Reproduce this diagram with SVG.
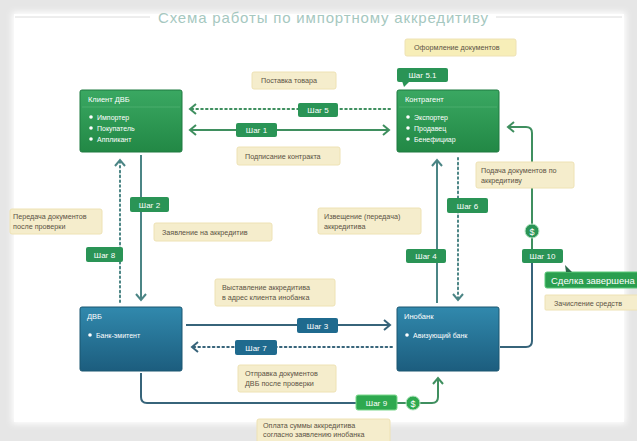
<svg xmlns="http://www.w3.org/2000/svg" width="637" height="441" viewBox="0 0 637 441">
<defs>
<style>
text{font-family:"Liberation Sans","DejaVu Sans",sans-serif}
.lbl rect{fill:#f5edcc;stroke:#eee2b4;stroke-width:1}
.lbl text{fill:#5b5344;font-size:7.2px}
.st rect{fill:#2a9456}
.stb rect{fill:#1f6a8e}
.st text,.stb text{fill:#fff;font-size:8px;text-anchor:middle}
.ng{fill:url(#gg);stroke:#1f7a40;stroke-width:1}
.nb{fill:url(#bg);stroke:#1a5670;stroke-width:1}
.nt{fill:#fff;font-size:7.5px}
.nbul{fill:#fff;font-size:7px}
.ln{fill:none;stroke-width:2}
.dot{stroke-dasharray:1.6 3.2;stroke-linecap:round}
.cg{stroke:#3f8f5f}
.ct{stroke:#4b8585}
.cs{stroke:#37647a}
</style>
<linearGradient id="gg" x1="0" y1="0" x2="0" y2="1"><stop offset="0" stop-color="#3aa862"/><stop offset="1" stop-color="#228845"/></linearGradient>
<linearGradient id="bg" x1="0" y1="0" x2="0" y2="1"><stop offset="0" stop-color="#3189ad"/><stop offset="1" stop-color="#1c5d7e"/></linearGradient>
<filter id="sh" x="-5%" y="-5%" width="110%" height="110%"><feGaussianBlur stdDeviation="3"/></filter>
<marker id="ag" markerUnits="userSpaceOnUse" markerWidth="10" markerHeight="12" viewBox="0 0 10 12" refX="7" refY="6" orient="auto-start-reverse"><path d="M1,1 L7,6 L1,11" fill="none" stroke="#3f8f5f" stroke-width="2"/></marker>
<marker id="at" markerUnits="userSpaceOnUse" markerWidth="10" markerHeight="12" viewBox="0 0 10 12" refX="7" refY="6" orient="auto-start-reverse"><path d="M1,1 L7,6 L1,11" fill="none" stroke="#4b8585" stroke-width="2"/></marker>
<marker id="as" markerUnits="userSpaceOnUse" markerWidth="10" markerHeight="12" viewBox="0 0 10 12" refX="7" refY="6" orient="auto-start-reverse"><path d="M1,1 L7,6 L1,11" fill="none" stroke="#37647a" stroke-width="2"/></marker>
</defs>

<rect x="0" y="0" width="637" height="441" fill="#e6e6e6"/>
<rect x="12" y="12" width="614" height="412" fill="#ffffff" filter="url(#sh)"/>
<rect x="14" y="14" width="610" height="408" fill="#ffffff"/>

<g id="title">
<line x1="15" y1="17" x2="150" y2="17" stroke="#dcdcdc" stroke-width="1"/>
<line x1="496" y1="17" x2="622" y2="17" stroke="#dcdcdc" stroke-width="1"/>
<text x="323" y="23" font-size="15" fill="#a6c8bf" text-anchor="middle" textLength="330">Схема работы по импортному аккредитиву</text>
</g>

<g id="connectors">
<path class="ln dot cg" d="M390,109 H190" marker-end="url(#ag)"/>
<path class="ln cg" d="M190,130 H389" marker-start="url(#ag)" marker-end="url(#ag)"/>
<path class="ln ct" d="M141,155 V300" marker-end="url(#at)"/>
<path class="ln dot ct" d="M120,302 V160" marker-end="url(#at)"/>
<path class="ln cs" d="M186,325 H390" marker-end="url(#as)"/>
<path class="ln dot cs" d="M392,347 H192" marker-end="url(#as)"/>
<path class="ln ct" d="M437,303 V160" marker-end="url(#at)"/>
<path class="ln dot ct" d="M458,158 V300" marker-end="url(#at)"/>
<path class="ln cs" d="M141,373 V397 Q141,403 147,403 H360"/>
<path class="ln cg" d="M360,403 H432 Q438,403 438,397 V378" marker-end="url(#ag)"/>
<path class="ln cs" d="M500,347 H526 Q532,347 532,341 V255"/>
<path class="ln cg" d="M532,255 V133 Q532,127 526,127 H508" marker-end="url(#ag)"/>
</g>

<g id="node-client">
<rect class="ng" x="80" y="90" width="102" height="62" rx="2"/>
<text class="nt" x="88" y="102">Клиент ДВБ</text>
<line x1="82" y1="107" x2="180" y2="107" stroke="#5fbd80" stroke-opacity="0.5"/>
<circle cx="91" cy="117" r="1.8" fill="#fff"/><text class="nbul" x="97" y="119.5">Импортер</text>
<circle cx="91" cy="128" r="1.8" fill="#fff"/><text class="nbul" x="97" y="130.5">Покупатель</text>
<circle cx="91" cy="139" r="1.8" fill="#fff"/><text class="nbul" x="97" y="141.5">Аппликант</text>
</g>

<g id="node-contragent">
<rect class="ng" x="397" y="90" width="102" height="62" rx="2"/>
<text class="nt" x="405" y="102">Контрагент</text>
<line x1="399" y1="107" x2="497" y2="107" stroke="#5fbd80" stroke-opacity="0.5"/>
<circle cx="408" cy="117" r="1.8" fill="#fff"/><text class="nbul" x="414" y="119.5">Экспортер</text>
<circle cx="408" cy="128" r="1.8" fill="#fff"/><text class="nbul" x="414" y="130.5">Продавец</text>
<circle cx="408" cy="139" r="1.8" fill="#fff"/><text class="nbul" x="414" y="141.5">Бенефициар</text>
</g>

<g id="node-dvb">
<rect class="nb" x="80" y="307" width="102" height="64" rx="2"/>
<text class="nt" x="87" y="319">ДВБ</text>
<circle cx="90" cy="335" r="1.8" fill="#fff"/><text class="nbul" x="96" y="337.5">Банк-эмитент</text>
</g>

<g id="node-inobank">
<rect class="nb" x="397" y="307" width="102" height="64" rx="2"/>
<text class="nt" x="404" y="319">Инобанк</text>
<circle cx="407" cy="335" r="1.8" fill="#fff"/><text class="nbul" x="413" y="337.5">Авизующий банк</text>
</g>

<g id="labels">
<g class="lbl"><rect x="405" y="39" width="111" height="17" rx="2" style="fill:#f7eeb8"/><text x="414" y="50">Оформление документов</text></g>
<g class="lbl"><rect x="252" y="72" width="84" height="17" rx="2"/><text x="261" y="83">Поставка товара</text></g>
<g class="lbl"><rect x="237" y="147" width="103" height="18" rx="2"/><text x="245" y="158.5">Подписание контракта</text></g>
<g class="lbl"><rect x="10" y="209" width="92" height="25" rx="2"/><text x="13" y="219">Передача документов</text><text x="13" y="229">после проверки</text></g>
<g class="lbl"><rect x="154" y="223" width="118" height="18" rx="2"/><text x="162" y="234.5">Заявление на аккредитив</text></g>
<g class="lbl"><rect x="318" y="208" width="103" height="26" rx="2"/><text x="324" y="218.5">Извещение (передача)</text><text x="324" y="228.5">аккредитива</text></g>
<g class="lbl"><rect x="476" y="162" width="98" height="26" rx="2"/><text x="481" y="172.5">Подача документов по</text><text x="481" y="182.5">аккредитиву</text></g>
<g class="lbl"><rect x="215" y="279" width="120" height="27" rx="2"/><text x="222" y="289.5">Выставление аккредитива</text><text x="222" y="299.5">в адрес клиента инобанка</text></g>
<g class="lbl"><rect x="238" y="365" width="98" height="27" rx="2"/><text x="245" y="375.5">Отправка документов</text><text x="245" y="385.5">ДВБ после проверки</text></g>
<g class="lbl"><rect x="257" y="419" width="133" height="25" rx="2"/><text x="263" y="428">Оплата суммы аккредитива</text><text x="263" y="436.5">согласно заявлению инобанка</text></g>
<g class="lbl"><rect x="545" y="295" width="95" height="15" rx="1"/><text x="554" y="305.5">Зачисление средств</text></g>
</g>

<g id="steps">
<g class="st"><rect x="298" y="103" width="40" height="14" rx="2"/><text x="318" y="113">Шаг 5</text></g>
<g class="st"><rect x="236" y="123" width="41" height="14" rx="2"/><text x="256.5" y="133">Шаг 1</text></g>
<g class="st"><rect x="397" y="68" width="51" height="14" rx="2"/><path d="M402,81 L410,81 L404,87 Z" fill="#2a9456"/><text x="422.5" y="78">Шаг 5.1</text></g>
<g class="st"><rect x="130" y="197" width="39" height="15" rx="2"/><text x="149.5" y="207.5">Шаг 2</text></g>
<g class="st"><rect x="86" y="247" width="37" height="15" rx="2"/><text x="104.5" y="257.5">Шаг 8</text></g>
<g class="stb"><rect x="297" y="318" width="41" height="15" rx="2"/><text x="317.5" y="328.5">Шаг 3</text></g>
<g class="stb"><rect x="235" y="340" width="42" height="15" rx="2"/><text x="256" y="350.5">Шаг 7</text></g>
<g class="st"><rect x="406" y="249" width="40" height="14" rx="2"/><text x="426" y="259">Шаг 4</text></g>
<g class="st"><rect x="447" y="198" width="41" height="15" rx="2"/><text x="467.5" y="208.5">Шаг 6</text></g>
<g class="st"><rect x="522" y="249" width="41" height="14" rx="2"/><text x="542.5" y="259">Шаг 10</text></g>
<g class="st"><rect x="356" y="395" width="41" height="15" rx="2" style="fill:#2ea94f;stroke:#7dd88d;stroke-width:1"/><text x="376.5" y="405.5">Шаг 9</text></g>
<g id="done"><rect x="545" y="272" width="96" height="16" rx="2" fill="#2a9e4f" stroke="#5cc97a" stroke-width="1"/><path d="M565,265 L572,272 L566,272 Z" fill="#2a6a4a"/><text x="551" y="283.5" fill="#fff" font-size="9.5">Сделка завершена</text></g>
<g class="coin"><circle cx="532" cy="231" r="7" fill="#2a9456" stroke="#b8e6c4" stroke-width="1"/><text x="532" y="234.5" fill="#fff" font-size="9" text-anchor="middle">$</text></g>
<g class="coin"><circle cx="413" cy="403" r="7" fill="#2ea94f" stroke="#b8e6c4" stroke-width="1"/><text x="413" y="406.5" fill="#fff" font-size="9" text-anchor="middle">$</text></g>
</g>
</svg>
